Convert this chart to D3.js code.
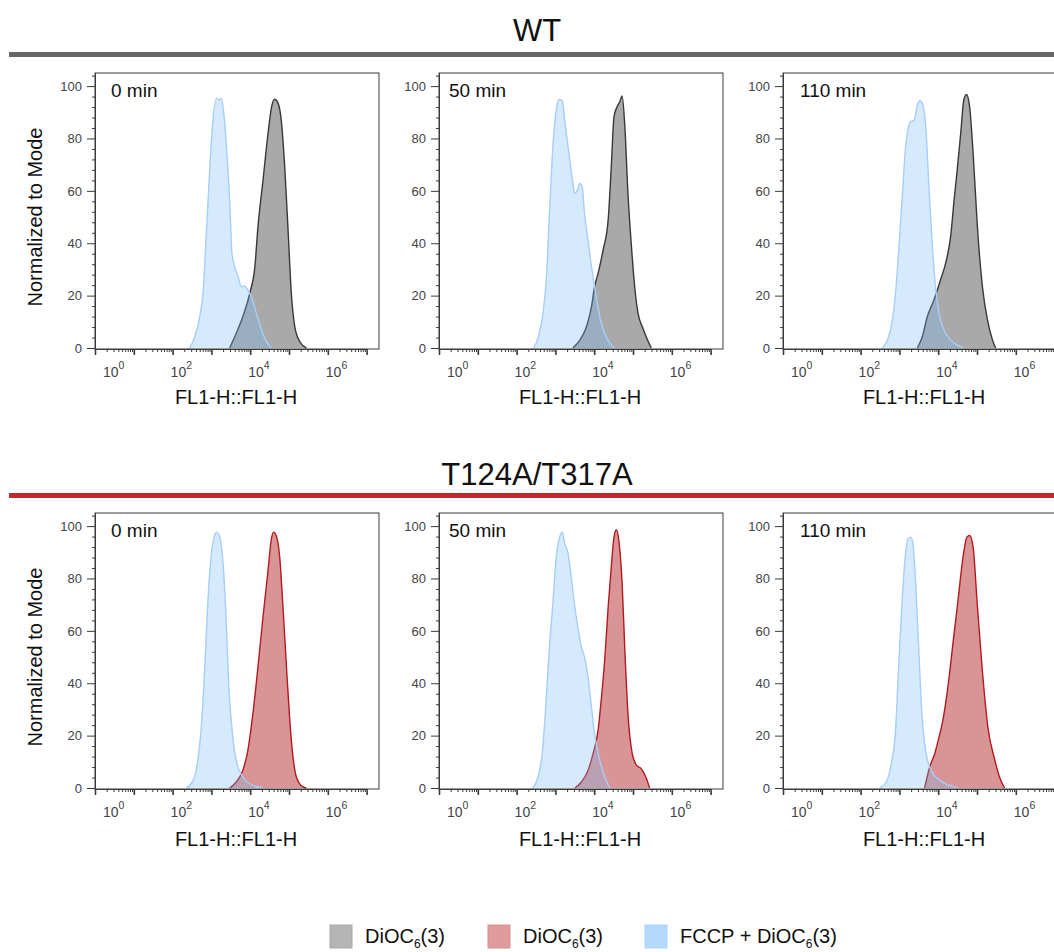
<!DOCTYPE html>
<html><head><meta charset="utf-8">
<script src="https://cdn.jsdelivr.net/npm/d3@7"></script>
<style>
body{margin:0;background:#fff}
svg{display:block;font-family:"Liberation Sans",Arial,Helvetica,sans-serif}
</style>
</head><body>
<svg id="chart" width="1054" height="952"></svg>
<script>
// ---------- data ----------
const genotypes = ["WT", "T124A/T317A"];
const timepoints = ["0 min", "50 min", "110 min"];
const xTickExponents = [0, 2, 4, 6];
const yTickValues = [0, 20, 40, 60, 80, 100];
const xAxisTitle = "FL1-H::FL1-H";
const yAxisTitle = "Normalized to Mode";
const legendNames = ["DiOC", "DiOC", "FCCP + DiOC"];
const legendSub = ["6", "6", "6"];
const legendTail = ["(3)", "(3)", "(3)"];

// each point: [log10(FL1-H), % of mode]
const wtFccp0 = [[2.44,0],[2.57,4.3],[2.70,12],[2.79,22],[2.87,43.8],[2.96,69],[3.04,87],[3.13,95.3],[3.20,94.7],[3.26,95.3],[3.32,89.6],[3.39,76.8],[3.47,56.5],[3.53,36],[3.60,31],[3.69,27.2],[3.77,23.4],[3.86,23.7],[3.94,22.1],[4.03,19.6],[4.16,13.2],[4.29,6.9],[4.42,2.4],[4.55,0]];
const wtDioc0 = [[3.47,0],[3.64,5.6],[3.81,12],[3.99,20.9],[4.12,31],[4.20,46.3],[4.33,64],[4.46,82],[4.55,92],[4.63,95],[4.72,93.4],[4.80,87],[4.89,69],[4.98,43.8],[5.06,20.9],[5.15,8.1],[5.28,2.4],[5.45,0]];
const wtFccp50 = [[2.44,0],[2.55,3.7],[2.68,13.2],[2.77,27.2],[2.85,52.7],[2.94,78],[3.02,90.8],[3.09,94.9],[3.18,94.4],[3.24,87],[3.30,80],[3.37,71.8],[3.44,64],[3.50,59],[3.57,60.3],[3.63,62.8],[3.69,61.6],[3.75,51.4],[3.84,41.2],[3.93,31],[4.04,20.9],[4.14,12],[4.27,5.6],[4.40,1.8],[4.53,0]];
const wtDioc50 = [[3.45,0],[3.63,3],[3.80,8.1],[3.93,15.8],[4.01,23.4],[4.10,28.5],[4.23,37.4],[4.36,48.9],[4.44,69.2],[4.51,88.3],[4.59,92.1],[4.66,94],[4.72,96.2],[4.79,84.5],[4.87,59],[4.96,38.7],[5.06,20.9],[5.13,13.2],[5.24,8.1],[5.34,4.3],[5.47,0]];
const wtFccp110 = [[2.56,0],[2.69,3],[2.82,10.7],[2.90,20.9],[2.99,38.7],[3.08,59],[3.16,76.8],[3.29,86.4],[3.38,87],[3.46,92.7],[3.53,94.4],[3.59,93.4],[3.68,84.5],[3.76,61.6],[3.85,38.7],[3.93,23.4],[4.02,13.2],[4.15,6.9],[4.32,3],[4.49,1.1],[4.66,0]];
const wtDioc110 = [[3.46,0],[3.59,4.3],[3.72,12],[3.89,18.3],[4.06,26],[4.19,32.3],[4.32,42.5],[4.41,56.5],[4.49,68],[4.58,82],[4.66,94.7],[4.73,96.8],[4.81,92.1],[4.90,74.3],[5.01,46.3],[5.14,23.4],[5.27,10.7],[5.40,3],[5.48,0]];
const mutFccp0 = [[2.35,0],[2.53,2.9],[2.65,10.6],[2.74,23.3],[2.83,46.2],[2.91,71.6],[3.00,89.4],[3.08,96.4],[3.14,97.7],[3.21,96.1],[3.28,89.4],[3.37,67.8],[3.45,38.5],[3.56,18.2],[3.66,9.3],[3.81,4.2],[4.07,1],[4.33,0]];
const mutDioc0 = [[3.47,0],[3.64,2.3],[3.81,6.7],[3.94,14.4],[4.07,28.4],[4.20,46.2],[4.33,65.3],[4.46,83.1],[4.54,94.5],[4.60,97.7],[4.67,96.4],[4.76,88.2],[4.85,67.8],[4.95,42.4],[5.06,18.2],[5.19,4.2],[5.36,0.4],[5.45,0]];
const mutFccp50 = [[2.41,0],[2.55,4.2],[2.66,13.1],[2.75,30.9],[2.84,52.5],[2.94,71.6],[3.02,88.2],[3.11,95.8],[3.18,97.7],[3.24,93.3],[3.32,90.1],[3.41,80.5],[3.50,69.1],[3.58,61.5],[3.67,53.8],[3.75,50],[3.84,42.4],[3.93,30.9],[4.01,20.7],[4.14,10.6],[4.27,4.2],[4.40,0]];
const mutDioc50 = [[3.50,0],[3.67,2.3],[3.84,6.7],[3.97,13.1],[4.10,22],[4.18,33.5],[4.27,48.7],[4.36,69.1],[4.44,84.4],[4.51,95.8],[4.57,98.6],[4.64,93.9],[4.72,78],[4.79,52.5],[4.87,28.4],[4.98,13.1],[5.09,8.7],[5.21,7.4],[5.33,4.2],[5.43,0]];
const mutFccp110 = [[2.49,0],[2.66,2.3],[2.79,9.3],[2.90,22],[2.98,46.2],[3.07,71.6],[3.15,88.2],[3.22,95.2],[3.29,95.8],[3.35,93.3],[3.42,78],[3.50,52.5],[3.58,28.4],[3.69,13.1],[3.82,6.7],[4.04,2.9],[4.30,1],[4.51,0]];
const mutDioc110 = [[3.65,0],[3.78,8],[3.91,13.1],[4.00,18.2],[4.12,25.8],[4.25,38.5],[4.38,55.1],[4.51,71.6],[4.64,88.2],[4.74,95.8],[4.81,96.4],[4.90,92],[5.00,71.6],[5.13,46.2],[5.28,23.3],[5.46,10.6],[5.58,4.2],[5.71,0]];

// ---------- layout & style ----------
const panels = [
  {row:0, col:0, dioc:wtDioc0,  fccp:wtFccp0},
  {row:0, col:1, dioc:wtDioc50, fccp:wtFccp50},
  {row:0, col:2, dioc:wtDioc110,fccp:wtFccp110},
  {row:1, col:0, dioc:mutDioc0,  fccp:mutFccp0},
  {row:1, col:1, dioc:mutDioc50, fccp:mutFccp50},
  {row:1, col:2, dioc:mutDioc110,fccp:mutFccp110}
];
const colX = [95, 439, 783];
const rowY = [0, 440];
const labelDx = [16, 10, 17];
const frameW = 284, frameTop = 73, frameBottom = 349, axisLen = 271.6;
const dioStyle = [{fill:"#a9a9a9", stroke:"#383838"}, {fill:"#d99596", stroke:"#b3191f"}];
const fccpStyle = {fill:"#78b8f8", opacity:0.3, stroke:"#a6cef8"};
const headerColors = ["#676767", "#c1272d"];
const legendColors = [{fill:"#b5b5b5", stroke:"#a8a8a8"}, {fill:"#e09b9c", stroke:"#d68d8e"}, {fill:"#b5d9fd", stroke:"#a9d1f7"}];

const svg = d3.select("#chart");
const defs = svg.append("defs");

// headers
genotypes.forEach((gname, r) => {
  const dy = rowY[r];
  svg.append("text").attr("x", 537).attr("y", 41 + dy + (r ? 4 : 0))
    .attr("text-anchor", "middle").attr("font-size", 31).attr("fill", "#111").text(gname);
  svg.append("rect").attr("x", 9).attr("y", (r ? 493 : 52)).attr("width", 1054).attr("height", 5)
    .attr("fill", headerColors[r]);
});

panels.forEach((p, i) => {
  const x0 = colX[p.col], dy = rowY[p.row];
  const x = d3.scaleLog().domain([1, 1e7]).range([x0, x0 + axisLen]);
  const y = d3.scaleLinear().domain([0, 105]).range([348 + dy, frameTop + dy]);
  const g = svg.append("g");

  defs.append("clipPath").attr("id", "clip" + i).append("rect")
    .attr("x", x0).attr("y", frameTop + dy).attr("width", frameW).attr("height", frameBottom - frameTop);

  const area = d3.area().x(d => x(Math.pow(10, d[0]))).y0(y(0)).y1(d => y(d[1])).curve(d3.curveMonotoneX);
  const line = d3.line().x(d => x(Math.pow(10, d[0]))).y(d => y(d[1])).curve(d3.curveMonotoneX);

  const plot = g.append("g").attr("clip-path", `url(#clip${i})`);
  const ds = dioStyle[p.row];
  plot.append("path").datum(p.dioc).attr("d", area).attr("fill", ds.fill);
  plot.append("path").datum(p.dioc).attr("d", line).attr("fill", "none").attr("stroke", ds.stroke).attr("stroke-width", 1.4);
  plot.append("path").datum(p.fccp).attr("d", area).attr("fill", fccpStyle.fill).attr("fill-opacity", fccpStyle.opacity);
  plot.append("path").datum(p.fccp).attr("d", line).attr("fill", "none").attr("stroke", fccpStyle.stroke).attr("stroke-width", 1.4);

  // frame
  g.append("rect").attr("x", x0).attr("y", frameTop + dy).attr("width", frameW).attr("height", frameBottom - frameTop)
    .attr("fill", "none").attr("stroke", "#3a3a3a").attr("stroke-width", 1);

  // y axis
  const yMajor = g.append("g").attr("transform", `translate(${x0},0)`)
    .call(d3.axisLeft(y).tickValues(yTickValues).tickSize(8).tickSizeOuter(0).tickPadding(5).tickFormat(d3.format("d")));
  const yMinor = g.append("g").attr("transform", `translate(${x0},0)`)
    .call(d3.axisLeft(y).tickValues(d3.range(4, 105, 4).filter(v => v % 20)).tickSize(3).tickSizeOuter(0).tickFormat(""));
  [yMajor, yMinor].forEach(a => {
    a.select(".domain").attr("stroke", "#3a3a3a");
    a.selectAll(".tick line").attr("stroke", "#3a3a3a");
  });
  yMajor.selectAll(".tick text").attr("font-size", 13).attr("fill", "#444").attr("font-family", "inherit");

  // x axis
  const axY = frameBottom + dy;
  const majors = d3.range(0, 8).map(k => Math.pow(10, k));
  const minors = [];
  d3.range(0, 7).forEach(k => d3.range(2, 10).forEach(m => minors.push(m * Math.pow(10, k))));
  const xMajor = g.append("g").attr("transform", `translate(0,${axY})`)
    .call(d3.axisBottom(x).tickValues(majors).tickSize(6).tickSizeOuter(0).tickFormat(""));
  const xMinor = g.append("g").attr("transform", `translate(0,${axY})`)
    .call(d3.axisBottom(x).tickValues(minors).tickSize(3).tickSizeOuter(0).tickFormat(""));
  [xMajor, xMinor].forEach(a => {
    a.select(".domain").attr("stroke", "#3a3a3a");
    a.selectAll(".tick line").attr("stroke", "#3a3a3a");
  });
  xMajor.selectAll(".tick line").attr("stroke-width", 1.6);

  xTickExponents.forEach(k => {
    const tx = k === 0 ? x0 + 8 : x(Math.pow(10, k)) - 2;
    const t = g.append("text").attr("x", tx).attr("y", axY + 28).attr("font-size", 14).attr("fill", "#444");
    t.append("tspan").text("10");
    t.append("tspan").attr("dy", -8).attr("font-size", 10.5).text(String(k));
  });

  // titles
  g.append("text").attr("x", x0 + frameW / 2 - 1).attr("y", 404 + dy + (p.row ? 2 : 0)).attr("text-anchor", "middle")
    .attr("font-size", 20).attr("fill", "#111").text(xAxisTitle);
  if (p.col === 0) {
    g.append("text").attr("transform", `translate(42,${217 + dy}) rotate(-90)`).attr("text-anchor", "middle")
      .attr("font-size", 20).attr("fill", "#111").text(yAxisTitle);
  }
  g.append("text").attr("x", x0 + labelDx[p.col]).attr("y", frameTop + dy + 24).attr("font-size", 19)
    .attr("fill", "#111").text(timepoints[p.col]);
});

// legend
const legendX = [330, 488, 645];
legendNames.forEach((name, i) => {
  svg.append("rect").attr("x", legendX[i]).attr("y", 925).attr("width", 22).attr("height", 23)
    .attr("fill", legendColors[i].fill).attr("stroke", legendColors[i].stroke).attr("stroke-width", 1);
  const t = svg.append("text").attr("x", legendX[i] + 35).attr("y", 943).attr("font-size", 20).attr("fill", "#111");
  t.append("tspan").text(name);
  t.append("tspan").attr("dy", 5).attr("font-size", 12).text(legendSub[i]);
  t.append("tspan").attr("dy", -5).text(legendTail[i]);
});
</script>
</body></html>
